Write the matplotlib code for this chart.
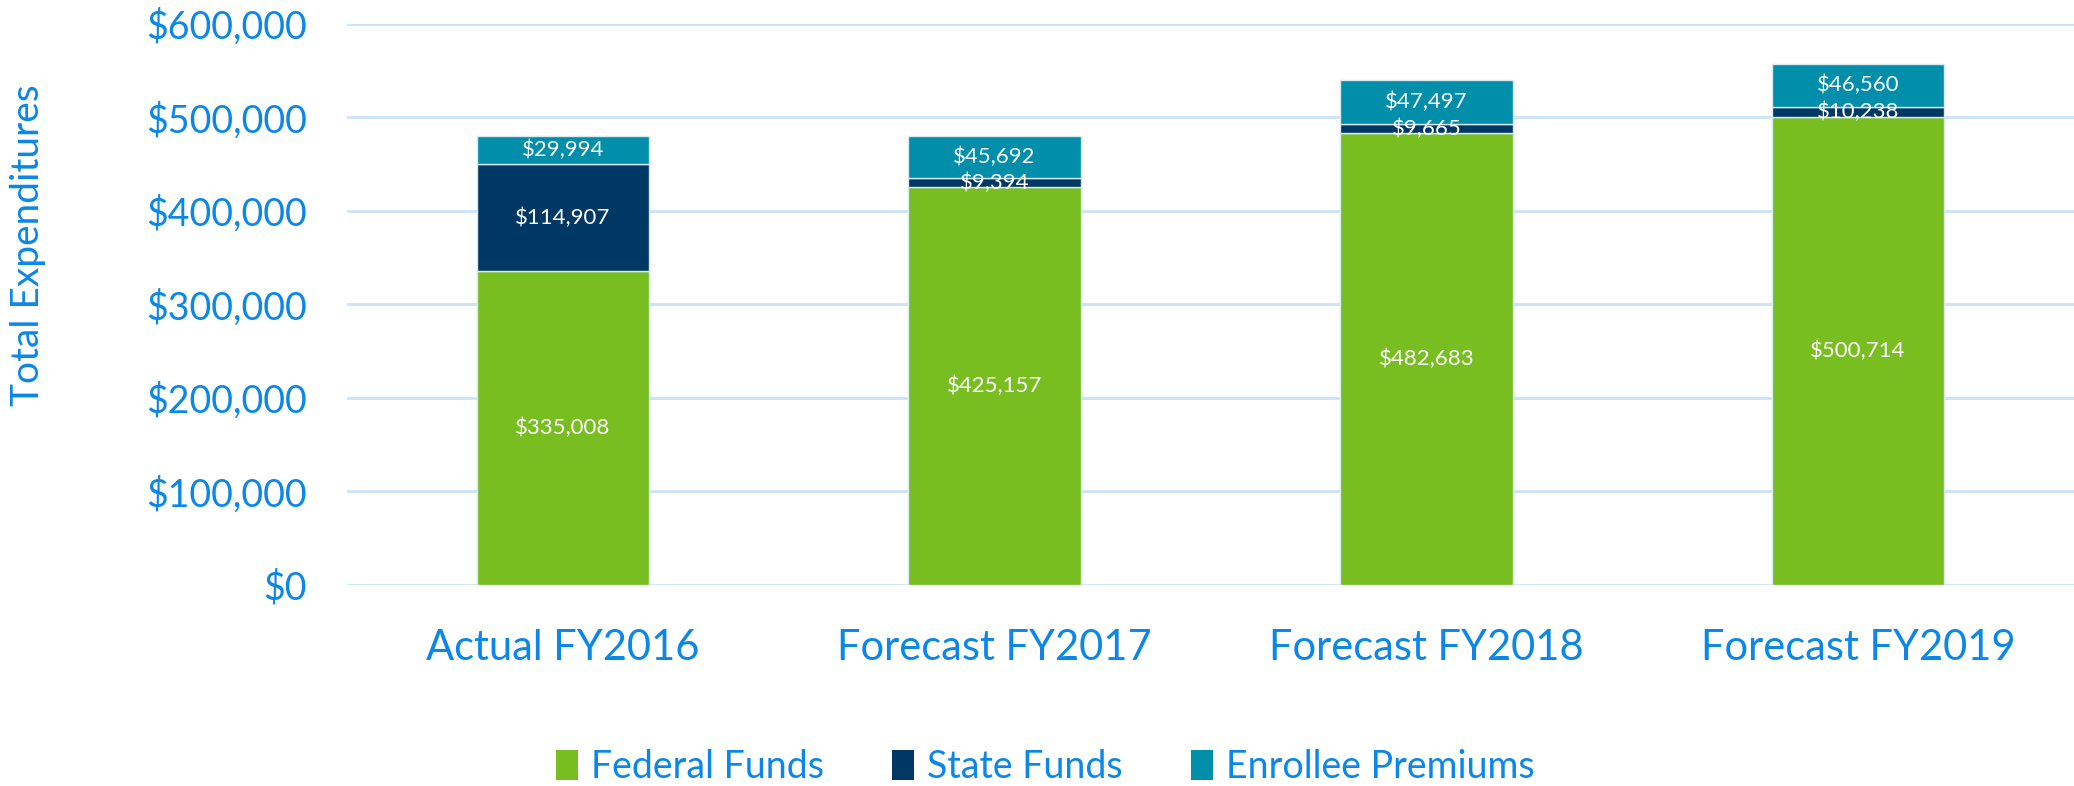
import matplotlib
matplotlib.use("Agg")
import matplotlib.pyplot as plt
from matplotlib.patches import Patch
import numpy as np

plt.rcParams['font.family'] = ['Lato', 'DejaVu Sans']

categories = ['Actual FY2016', 'Forecast FY2017', 'Forecast FY2018', 'Forecast FY2019']
federal = [335008, 425157, 482683, 500714]
state = [114907, 9394, 9665, 10238]
enrollee = [29994, 45692, 47497, 46560]
y_ticks = [0, 100000, 200000, 300000, 400000, 500000, 600000]

series = [('Federal Funds', federal, '#78BE20'),
          ('State Funds', state, '#003865'),
          ('Enrollee Premiums', enrollee, '#008EAA')]

text_blue = '#0B87E8'
grid_blue = '#C9E4F8'

fig = plt.figure(figsize=(20.74, 7.86), dpi=100)
ax = fig.add_axes([0.1673, 0.2562, 0.8327, 0.7135])

x = np.arange(len(categories))
bottom = np.zeros(len(categories))
for name, vals, color in series:
    vals = np.array(vals, dtype=float)
    ax.bar(x, vals, width=0.4, bottom=bottom, color=color, edgecolor='#D8E8EE',
           linewidth=1, label=name, zorder=3)
    for xi, b, v in zip(x, bottom, vals):
        ax.text(xi, b + v / 2, f'${v:,.0f}', ha='center', va='center',
                color='white', fontsize=16, zorder=4)
    bottom += vals

ax.set_xlim(-0.5, 3.5)
ax.set_ylim(0, 600000)
ax.set_yticks(y_ticks)
ax.set_yticklabels([f'${v:,.0f}' for v in y_ticks])
ax.set_xticks(x)
ax.set_xticklabels(categories)
ax.tick_params(axis='y', length=0, pad=29, labelsize=27, labelcolor=text_blue)
ax.tick_params(axis='x', length=0, pad=32, labelsize=30, labelcolor=text_blue)
ax.grid(axis='y', color=grid_blue, linewidth=2, zorder=0)
for s in ax.spines.values():
    s.set_visible(False)

fig.text(0.0135, 0.688, 'Total Expenditures', rotation=90, ha='center', va='center',
         color=text_blue, fontsize=28)

handles = [Patch(facecolor=c, label=n) for n, _, c in series]
fig.legend(handles=handles, loc='center', bbox_to_anchor=(0.504, 0.024), ncol=3,
           frameon=False, fontsize=27, labelcolor=text_blue, handlelength=0.6,
           handleheight=0.85, handletextpad=0.35, columnspacing=1.8)

fig.savefig('out.png', dpi=100)
